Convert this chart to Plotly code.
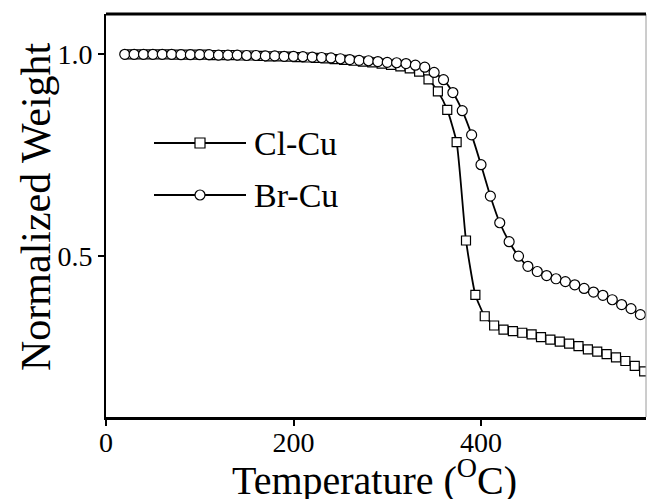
import plotly.graph_objects as go

# ---- data ----
cl_temp = [24, 34, 44, 54, 64, 74, 84, 94, 104, 114, 124, 134, 144, 154, 164, 174, 184, 194,
           204, 214, 224, 234, 244, 254, 264, 274, 284, 294, 304, 314, 324, 334, 344, 354,
           364, 374, 384, 394, 404, 414, 424, 434, 444, 454, 464, 474, 484, 494, 504, 514,
           524, 534, 544, 554, 564, 574]
cl_weight = [1.000, 1.000, 1.000, 1.000, 1.000, 0.999, 0.999, 0.999, 0.999, 0.998, 0.998,
             0.998, 0.997, 0.997, 0.996, 0.995, 0.995, 0.994, 0.993, 0.992, 0.991, 0.990,
             0.988, 0.986, 0.984, 0.982, 0.980, 0.977, 0.974, 0.970, 0.965, 0.957, 0.938,
             0.908, 0.862, 0.782, 0.538, 0.403, 0.350, 0.327, 0.317, 0.313, 0.309, 0.305,
             0.298, 0.292, 0.287, 0.282, 0.276, 0.268, 0.262, 0.256, 0.248, 0.239, 0.227,
             0.213]

br_temp = [20, 30, 40, 50, 60, 70, 80, 90, 100, 110, 120, 130, 140, 150, 160, 170, 180, 190,
           200, 210, 220, 230, 240, 250, 260, 270, 280, 290, 300, 310, 320, 330, 340, 350,
           360, 370, 380, 390, 400, 410, 420, 430, 440, 450, 460, 470, 480, 490, 500, 510,
           520, 530, 540, 550, 560, 570]
br_weight = [1.000, 1.000, 1.000, 1.000, 1.000, 1.000, 0.999, 0.999, 0.999, 0.999, 0.998,
             0.998, 0.998, 0.997, 0.997, 0.996, 0.996, 0.995, 0.995, 0.994, 0.993, 0.992,
             0.991, 0.989, 0.987, 0.985, 0.984, 0.982, 0.980, 0.979, 0.977, 0.973, 0.968,
             0.955, 0.937, 0.905, 0.860, 0.800, 0.726, 0.648, 0.582, 0.535, 0.499, 0.474,
             0.461, 0.451, 0.443, 0.436, 0.428, 0.419, 0.410, 0.402, 0.391, 0.379, 0.369,
             0.354]

series_names = ["Cl-Cu", "Br-Cu"]
x_ticks = [0, 200, 400]
y_ticks = [0.5, 1.0]
x_title = "Temperature (<sup>O</sup>C)"
y_title = "Normalized Weight"

FONT = "Liberation Serif, Times New Roman, serif"

fig = go.Figure()
fig.add_trace(go.Scatter(
    x=cl_temp, y=cl_weight, name=series_names[0], mode="lines+markers",
    line=dict(color="black", width=1.8, shape="spline", smoothing=0.5),
    marker=dict(symbol="square", size=9, color="white", line=dict(color="black", width=1.2)),
    showlegend=False))
fig.add_trace(go.Scatter(
    x=br_temp, y=br_weight, name=series_names[1], mode="lines+markers",
    line=dict(color="black", width=1.8, shape="spline", smoothing=0.5),
    marker=dict(symbol="circle", size=10, color="white", line=dict(color="black", width=1.2)),
    showlegend=False))

# ---- hand-drawn legend (paper coords) ----
plot_l, plot_r, plot_t, plot_b = 106, 646, 14, 417
pw, ph = plot_r - plot_l, plot_b - plot_t

def px(x):
    return (x - plot_l) / pw

def py(y):
    return (plot_b - y) / ph

shapes = []
annotations = []
for name, ypix, sym in [(series_names[0], 143, "square"), (series_names[1], 195, "circle")]:
    yy = py(ypix)
    shapes.append(dict(type="line", xref="paper", yref="paper", x0=px(154), x1=px(246),
                       y0=yy, y1=yy, line=dict(color="black", width=1.8)))
    hx, hy = 5 / pw, 5 / ph
    shapes.append(dict(type="rect" if sym == "square" else "circle", xref="paper", yref="paper",
                       x0=px(200) - hx, x1=px(200) + hx, y0=yy - hy, y1=yy + hy,
                       fillcolor="white", line=dict(color="black", width=1.2)))
    annotations.append(dict(xref="paper", yref="paper", x=px(252), y=yy, xanchor="left",
                            yanchor="middle", text=name, showarrow=False,
                            font=dict(family=FONT, size=34, color="black")))

# axis titles as annotations for exact placement
annotations.append(dict(xref="paper", yref="paper", x=px(374), y=py(477), xanchor="center",
                        yanchor="middle", text=x_title, showarrow=False,
                        font=dict(family=FONT, size=40, color="black")))
annotations.append(dict(xref="paper", yref="paper", x=px(36), y=py(207), xanchor="center",
                        yanchor="middle", text=y_title, showarrow=False, textangle=-90,
                        font=dict(family=FONT, size=42, color="black")))

# thin right border (cropped edge look) and thick top border
shapes.append(dict(type="line", xref="paper", yref="paper", x0=1, x1=1, y0=0, y1=1,
                   line=dict(color="#9a9a9a", width=1)))
shapes.append(dict(type="line", xref="paper", yref="paper", x0=0, x1=1, y0=1, y1=1,
                   line=dict(color="black", width=3)))

fig.update_layout(
    width=648, height=499,
    margin=dict(l=plot_l, r=648 - plot_r, t=plot_t, b=499 - plot_b, autoexpand=False),
    paper_bgcolor="white", plot_bgcolor="white",
    font=dict(family=FONT, color="black"),
    shapes=shapes, annotations=annotations,
    xaxis=dict(range=[0, 576], tickvals=x_ticks, ticks="outside", ticklen=6, tickwidth=2,
               tickcolor="black", showline=True, linecolor="black", linewidth=2.5,
               showgrid=False, zeroline=False, automargin=False, ticklabelstandoff=-7,
               tickfont=dict(family=FONT, size=28, color="black")),
    yaxis=dict(range=[0.1, 1.1], tickvals=y_ticks, tickformat=".1f", ticks="outside",
               ticklen=6, tickwidth=2, tickcolor="black", showline=True, linecolor="black",
               linewidth=2, showgrid=False, zeroline=False, automargin=False,
               ticklabelstandoff=0,
               tickfont=dict(family=FONT, size=28, color="black")),
)

fig.write_html(
    "out.html",
    config={"displayModeBar": False},
    post_script="document.body.style.margin='0px';document.body.style.overflow='hidden';",
)
